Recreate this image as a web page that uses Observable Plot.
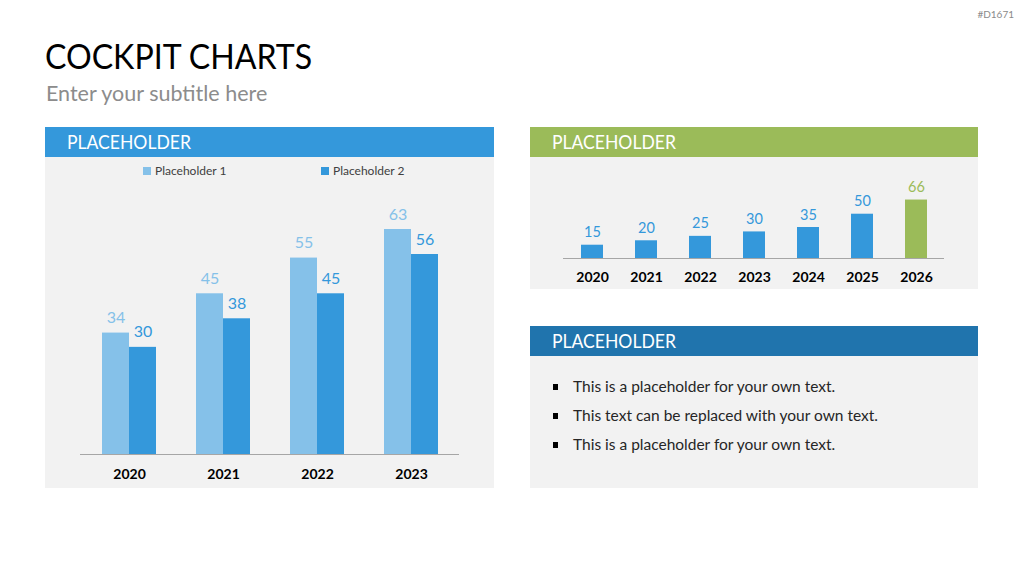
<!DOCTYPE html>
<html>
<head>
<meta charset="utf-8">
<script src="https://cdn.jsdelivr.net/npm/d3@7"></script>
<script src="https://cdn.jsdelivr.net/npm/@observablehq/plot@0.6"></script>
<style>
  html, body { margin: 0; padding: 0; background: #ffffff; }
  body { width: 1024px; height: 576px; position: relative; overflow: hidden; font-family: Lato, "Open Sans", sans-serif; }
  .abs { position: absolute; }
  .code { right: 10px; top: 9px; font-size: 10px; color: #8a8a8a; line-height: 1; }
  .title { left: 45px; top: 38px; font-size: 35px; line-height: 1; color: #000; white-space: nowrap; transform: scaleX(0.917); transform-origin: 0 0; }
  .subtitle { left: 46px; top: 83px; font-size: 21.5px; line-height: 1; color: #8c8c8c; white-space: nowrap; }
  .panel { background: #f2f2f2; }
  .head { color: #fff; font-size: 19.5px; line-height: 30px; height: 30px; padding-left: 22px; box-sizing: border-box; white-space: nowrap; }
  .head span { display: inline-block; transform: scaleX(0.9); transform-origin: 0 50%; }
  .legend { font-size: 12px; color: #404040; line-height: 1; white-space: nowrap; }
  .legend span.sw { display: inline-block; width: 8px; height: 8px; margin-right: 4px; vertical-align: 0px; }
  ul.bul { margin: 0; padding: 0; list-style: none; }
  ul.bul li { position: relative; font-size: 15.5px; color: #262626; line-height: 29px; padding-left: 43px; white-space: nowrap; }
  ul.bul li::before { content: ""; position: absolute; left: 23px; top: 12px; width: 5px; height: 6px; background: #000; }
</style>
</head>
<body>
<div class="abs code">#D1671</div>
<div class="abs title">COCKPIT CHARTS</div>
<div class="abs subtitle">Enter your subtitle here</div>

<div class="abs panel" style="left:45px; top:127px; width:449px; height:361px;"></div>
<div class="abs head" style="left:45px; top:127px; width:449px; background:#3498db;"><span>PLACEHOLDER</span></div>
<div id="legend" class="abs legend" style="left:143px; top:165px;"></div>
<div id="chart1" class="abs" style="left:45px; top:190px;"></div>

<div class="abs panel" style="left:530px; top:127px; width:448px; height:162px;"></div>
<div class="abs head" style="left:530px; top:127px; width:448px; background:#9bbb59;"><span>PLACEHOLDER</span></div>
<div id="chart2" class="abs" style="left:530px; top:175px;"></div>

<div class="abs panel" style="left:530px; top:326px; width:448px; height:162px;"></div>
<div class="abs head" style="left:530px; top:326px; width:448px; background:#2074ad;"><span>PLACEHOLDER</span></div>
<div id="bullets" class="abs" style="left:530px; top:372px; width:448px;"></div>

<script>
// ---- data ----
const years1 = ["2020", "2021", "2022", "2023"];
const seriesNames = ["Placeholder 1", "Placeholder 2"];
const series1 = [34, 45, 55, 63];
const series2 = [30, 38, 45, 56];

const years2 = ["2020", "2021", "2022", "2023", "2024", "2025", "2026"];
const values2 = [15, 20, 25, 30, 35, 50, 66];
const highlightYear = "2026";

const bulletTexts = [
  "This is a placeholder for your own text.",
  "This text can be replaced with your own text.",
  "This is a placeholder for your own text."
];

// ---- styles ----
const lightBlue = "#85c1e9";
const blue = "#3498db";
const green = "#9bbb59";
const axisGray = "#a6a6a6";
const font = "Lato, 'Open Sans', sans-serif";

// ---- legend ----
const legend = document.getElementById("legend");
const swColors = [lightBlue, blue];
seriesNames.forEach((n, i) => {
  const item = document.createElement("span");
  item.style.position = "absolute";
  item.style.left = (i === 0 ? 0 : 178) + "px";
  item.style.top = "0px";
  item.innerHTML = `<span class="sw" style="background:${swColors[i]}"></span>${n}`;
  legend.appendChild(item);
});

// ---- chart 1: grouped bars ----
const data1 = years1.map((y, i) => ({year: y, a: series1[i], b: series2[i]}));
const chart1 = Plot.plot({
  width: 449,
  height: 298,
  marginTop: 14,
  marginBottom: 34,
  marginLeft: 35,
  marginRight: 35,
  style: {background: "transparent", fontFamily: font, overflow: "visible"},
  x: {domain: years1, paddingInner: 0.43, paddingOuter: 0.215, label: null},
  y: {domain: [0, 70], axis: null},
  marks: [
    Plot.barY(data1, {x: "year", y: "a", fill: lightBlue, insetRight: 27}),
    Plot.barY(data1, {x: "year", y: "b", fill: blue, insetLeft: 27}),
    Plot.ruleY([0], {stroke: axisGray, strokeWidth: 1}),
    Plot.text(data1, {x: "year", y: "a", text: d => String(d.a), dx: -13.5, dy: -10, lineAnchor: "bottom", fill: lightBlue, fontSize: 16}),
    Plot.text(data1, {x: "year", y: "b", text: d => String(d.b), dx: 13.5, dy: -10, lineAnchor: "bottom", fill: blue, fontSize: 16}),
    Plot.axisX({tickSize: 0, tickPadding: 15, fontSize: 14, fontWeight: "bold", fill: "#000", label: null})
  ]
});
document.getElementById("chart1").appendChild(chart1);

// ---- chart 2: single series ----
const data2 = years2.map((y, i) => ({year: y, value: values2[i]}));
const colorOf = d => d.year === highlightYear ? green : blue;
const chart2 = Plot.plot({
  width: 448,
  height: 114,
  marginTop: 21,
  marginBottom: 31,
  marginLeft: 33,
  marginRight: 34,
  style: {background: "transparent", fontFamily: font, overflow: "visible"},
  x: {domain: years2, paddingInner: 0.6, paddingOuter: 0.3, label: null},
  y: {domain: [0, 70], axis: null},
  marks: [
    Plot.barY(data2, {x: "year", y: "value", fill: colorOf}),
    Plot.ruleY([0], {stroke: axisGray, strokeWidth: 1}),
    Plot.text(data2, {x: "year", y: "value", text: d => String(d.value), dy: -8, lineAnchor: "bottom", fill: colorOf, fontSize: 14.5}),
    Plot.axisX({tickSize: 0, tickPadding: 14, fontSize: 14, fontWeight: "bold", fill: "#000", label: null})
  ]
});
document.getElementById("chart2").appendChild(chart2);

// ---- bullets ----
const ul = document.createElement("ul");
ul.className = "bul";
bulletTexts.forEach(t => {
  const li = document.createElement("li");
  li.textContent = t;
  ul.appendChild(li);
});
document.getElementById("bullets").appendChild(ul);
</script>
</body>
</html>
